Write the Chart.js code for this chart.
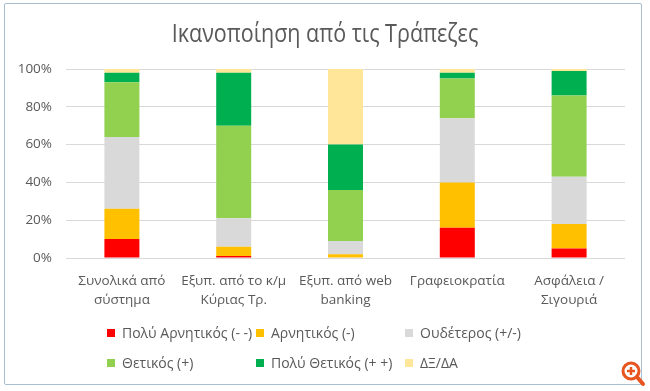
<!DOCTYPE html>
<html>
<head>
<meta charset="utf-8">
<script src="https://cdn.jsdelivr.net/npm/chart.js@4"></script>
<style>
  body { margin: 0; background: #fff; font-family: "Open Sans", sans-serif; }
  #wrap { position: relative; width: 650px; height: 391px; }
  #frame { position: absolute; left: 4px; top: 3px; width: 638px; height: 382px;
           border: 1px solid #a9bfcf; border-radius: 2px; box-sizing: border-box; }
  #title { position: absolute; left: 0; width: 650px; top: 17px; line-height: 30px; text-align: center;
           font-size: 25px; color: #595959; transform: scaleX(0.86); }
  canvas { position: absolute; left: 0; top: 0; }
  .lg { position: absolute; font-size: 14px; line-height: 20px; color: #595959; white-space: nowrap; }
  .lg i { display: inline-block; width: 8px; height: 8px; margin-right: 7px; vertical-align: 1px; }
  #zoomicon { position: absolute; left: 620px; top: 360px; }
</style>
</head>
<body>
<div id="wrap">
  <canvas id="myChart" width="650" height="391"></canvas>
  <div id="frame"></div>
  <div id="title">Ικανοποίηση από τις Τράπεζες</div>
  <div id="legend"></div>
  <svg id="zoomicon" width="26" height="28" viewBox="0 0 26 28">
    <circle cx="11" cy="11" r="8" fill="none" stroke="#e8541f" stroke-width="3"/>
    <line x1="17" y1="17" x2="23" y2="24" stroke="#e8541f" stroke-width="4" stroke-linecap="round"/>
    <line x1="7" y1="11" x2="15" y2="11" stroke="#e8541f" stroke-width="2.5"/>
    <line x1="11" y1="7" x2="11" y2="15" stroke="#e8541f" stroke-width="2.5"/>
  </svg>
</div>
<script>
// κατηγορίες (άξονας x)
const categories = [
    ["Συνολικά από", "σύστημα"],
    ["Εξυπ. από το κ/μ", "Κύριας Τρ."],
    ["Εξυπ. από web", "banking"],
    ["Γραφειοκρατία"],
    ["Ασφάλεια /", "Σιγουριά"]
];

// ποσοστά ανά απάντηση (%)
const veryNegative = [10, 1, 0, 16, 5];
const negative = [16, 5, 2, 24, 13];
const neutral = [38, 15, 7, 34, 25];
const positive = [29, 49, 27, 21, 43];
const veryPositive = [5, 28, 24, 3, 13];
const noAnswer = [2, 2, 40, 2, 1];

const seriesNames = ["Πολύ Αρνητικός (- -)", "Αρνητικός (-)", "Ουδέτερος (+/-)",
    "Θετικός (+)", "Πολύ Θετικός (+ +)", "ΔΞ/ΔΑ"];
const seriesColors = ["#ff0000", "#ffc000", "#d9d9d9", "#92d050", "#00b050", "#ffe699"];
const seriesData = [veryNegative, negative, neutral, positive, veryPositive, noAnswer];

const yTicks = [0, 20, 40, 60, 80, 100];

const ctx = document.getElementById("myChart").getContext("2d");

const myChart = new Chart(ctx, {
    type: "bar",
    data: {
        labels: categories,
        datasets: seriesNames.map((name, i) => ({
            label: name,
            data: seriesData[i],
            backgroundColor: seriesColors[i],
            borderWidth: 0,
            categoryPercentage: 1,
            barPercentage: 0.313
        }))
    },
    options: {
        responsive: false,
        animation: false,
        layout: { padding: { left: 6, right: 25, top: 69, bottom: 0 } },
        plugins: {
            legend: { display: false },
            tooltip: { enabled: false }
        },
        scales: {
            x: {
                stacked: true,
                grid: { display: false },
                border: { display: false },
                ticks: {
                    color: "#595959",
                    font: { family: "Open Sans", size: 13.5, lineHeight: 1.45 },
                    maxRotation: 0,
                    padding: 5
                },
                afterFit: (scale) => { scale.height = 133; }
            },
            y: {
                stacked: true,
                min: 0,
                max: 100,
                afterBuildTicks: (scale) => { scale.ticks = yTicks.map(v => ({ value: v })); },
                grid: { color: "#d9d9d9", drawTicks: false },
                border: { display: false },
                ticks: {
                    color: "#595959",
                    font: { family: "Open Sans", size: 13.5 },
                    padding: 14,
                    callback: (v) => v + "%"
                },
                afterFit: (scale) => { scale.width = 60; }
            }
        }
    }
});

// υπόμνημα σε δύο σειρές, τρεις στήλες
const legendBox = document.getElementById("legend");
const colX = [107, 256, 405];
const rowY = [323, 353];
seriesNames.forEach((name, i) => {
    const el = document.createElement("div");
    el.className = "lg";
    el.style.left = colX[i % 3] + "px";
    el.style.top = rowY[Math.floor(i / 3)] + "px";
    el.innerHTML = '<i style="background:' + seriesColors[i] + '"></i>' + name;
    legendBox.appendChild(el);
});
</script>
</body>
</html>
